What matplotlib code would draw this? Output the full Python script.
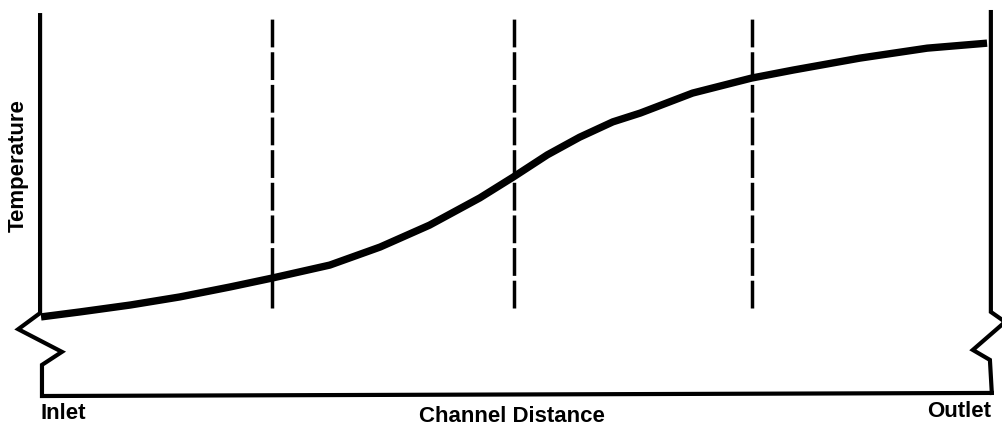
import matplotlib.pyplot as plt

# channel distance (0 = inlet, 100 = outlet) and temperature (arbitrary units)
dist = [0, 4.1, 9.4, 14.6, 19.9, 24.3, 30.4, 35.7, 40.9, 46.2, 49.7, 53.3,
        56.7, 60.2, 63.1, 68.6, 74.8, 79.2, 86.2, 93.3, 99.6]
temp = [20.6, 21.9, 23.7, 25.8, 28.4, 30.7, 34.1, 38.8, 44.5, 51.6, 57.0, 62.8,
        67.4, 71.4, 73.7, 78.9, 82.8, 84.9, 88.0, 90.6, 91.9]

# dashed reference stations
stations = [24.3, 49.8, 74.8]
station_top = 99.2
station_bottom = 22.9

# axis outline with break marks
left_x = [-0.1, -0.1, -2.4, 2.2, 0.1, 0.1, 100.1]
left_y = [99.2, 21.6, 17.4, 11.5, 8.1, 0.0, 0.8]
right_x = [100.0, 100.0, 101.5, 98.1, 99.9, 100.1]
right_y = [100.0, 21.9, 19.3, 12.0, 9.4, 0.8]

fig = plt.figure(figsize=(10.03, 4.29), dpi=100)
ax = fig.add_axes([0.0409, 0.0769, 0.947, 0.895])
ax.set_xlim(0, 100)
ax.set_ylim(0, 100)
ax.axis('off')

ax.plot(left_x, left_y, color='black', lw=3, clip_on=False, solid_joinstyle='miter')
ax.plot(right_x, right_y, color='black', lw=3, clip_on=False, solid_joinstyle='miter')

for s in stations:
    ax.plot([s, s], [station_bottom, station_top], color='black', lw=2.5,
            dashes=(8, 1.4), clip_on=False)

ax.plot(dist, temp, color='black', lw=5.3, solid_capstyle='butt',
        solid_joinstyle='round', clip_on=False)

font = dict(family='Liberation Sans', weight='bold', fontsize=16, color='black')
fig.text(0.018, 0.615, 'Temperature', rotation=90, ha='center', va='center', **font)
fig.text(0.040, 0.06, 'Inlet', ha='left', va='top', **font)
fig.text(0.988, 0.065, 'Outlet', ha='right', va='top', **font)
fig.text(0.51, 0.004, 'Channel Distance', ha='center', va='bottom', **font)

fig.savefig('out.png', dpi=100, facecolor='white')
